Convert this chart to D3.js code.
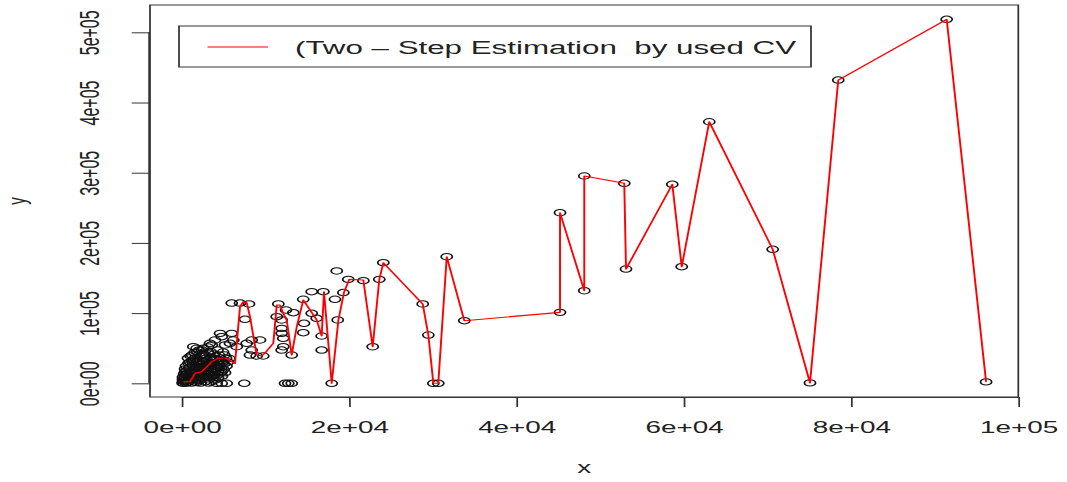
<!DOCTYPE html>
<html>
<head>
<meta charset="utf-8">
<script src="https://cdn.jsdelivr.net/npm/d3@7"></script>
<style>
  html, body { margin: 0; padding: 0; background: #fff; }
  svg { display: block; }
</style>
</head>
<body>
<div id="chart"></div>
<script>
// Observed data (x, y) drawn as open circles
const scatterX = [
  100, 280, 510, 510, 150, 750, 990, 630, 1230, 1470,
  1110, 1590, 1830, 2070, 1710, 1350, 2190, 2430, 2670, 2310,
  1950, 1590, 2900, 3140, 2790, 2550, 2190, 3380, 3620, 3260,
  3020, 2670, 3860, 4100, 3740, 3500, 3140, 4340, 4460, 4100,
  3860, 4700, 4820, 4460, 5060, 5300, 4940, 5530, 3500, 3980,
  400, 870, 1830, 2430, 990, 510, 150, 280, 400, 750,
  155, 390, 630, 870, 1110, 1350, 1590, 1830, 2070, 2310,
  2550, 2790, 3020, 3260, 3500, 3740, 3980, 4220, 4580, 3620,
  2900, 1470, 1230, 2070, 3140, 510, 990, 1710, 2430, 4340, 4820,
  215, 690, 1170, 1770, 2250, 2730, 3200,
  335, 810, 1290, 2010, 2490, 3080, 3680, 4280, 4640,
  570, 1050, 1530, 2010, 2490, 2960, 3440, 3920, 4400, 5000, 5360,
  810, 1290, 1770, 2250, 2730, 3200, 3800, 4400, 4880, 5710,
  1050, 1530, 2490, 3440, 4280, 5120,
  1390, 2580, 1790, 3380, 3980, 3590, 4780, 4580, 5980, 5180,
  5770, 6170, 6570, 7770, 8370, 8370, 9360, 8960, 9750, 8160,
  4180, 4780, 5180, 7570, 5980, 6970, 8040, 4180, 4780, 5380, 7480,
  11550, 12470, 13340, 11360, 11950, 11950, 12140, 12140, 11950, 13150,
  12350, 12740, 13150, 14530, 14530, 14620, 15540, 15540, 16140, 16730,
  16730, 16930, 18320, 17930, 18650, 18530, 19320, 19910, 21710, 22830,
  23620, 24100, 11950,
  28810, 29480, 30080, 30670, 31680, 33780, 45220, 45220, 48120, 48120,
  52900, 53110, 58640, 59770, 63060, 70640, 75100, 78480, 91440, 96150
];
const scatterY = [
  400, 3300, 400, 4700, 9000, 1900, 7600, 13200, 4700, 10400,
  17500, 1900, 7600, 14700, 21800, 26100, 4700, 10400, 17500, 24600,
  31800, 36000, 6100, 13200, 21800, 30300, 38900, 9000, 16100, 24600,
  33200, 41700, 11800, 20400, 28900, 37500, 44600, 16100, 26100, 34600,
  41700, 21800, 31800, 40300, 27500, 36000, 44600, 30300, 1900, 4700,
  16100, 21800, 44600, 47400, 30300, 24600, 6100, 13200, 20400, 36000,
  3300, 9000, 6100, 11800, 9000, 14700, 20400, 27500, 20400, 14700,
  7600, 13200, 19000, 14700, 20400, 7600, 26100, 30300, 36000, 33200,
  38900, 33200, 40300, 47400, 51700, 13200, 23200, 11800, 27500, 7600, 10400,
  400, 1100, 400, 1100, 400, 1900, 400,
  6800, 9000, 6100, 4700, 7600, 8300, 10400, 11800, 14700,
  18200, 16100, 17500, 23900, 19700, 24600, 26800, 19700, 22500, 19700, 24600,
  28900, 31800, 29600, 32500, 35300, 29600, 35300, 31100, 29600, 35300,
  38900, 43900, 41000, 45300, 47400, 40300,
  52100, 49900, 49900, 57000, 61700, 54600, 66400, 71200, 71200, 54600,
  57000, 61700, 52100, 57000, 47400, 61700, 61700, 38900, 38900, 40300,
  23600, 16500, 15100, 91200, 114300, 114300, 113000, 0, 0, 0, 0,
  113000, 104400, 100600, 94900, 78300, 71200, 64100, 52100, 47400, 40300,
  0, 0, 0, 119700, 72100, 85500, 130500, 99700, 92600, 67400,
  47400, 130500, 119700, 0, 90200, 160000, 129300, 148100, 146200, 52100,
  148100, 171800, 90200,
  113000, 68800, 0, 0, 180300, 89200, 101100, 243000, 131900, 295300,
  284900, 162800, 283500, 166100, 372600, 190900, 600, 432000, 518500, 2000
];

// Two-step CV estimate, drawn as the red line
const fitX = [
  190, 990, 1590, 2390, 2990, 3590, 4370, 5380, 5980, 6370,
  6970, 7360, 7770, 8160, 8960, 9560, 9960, 10950, 11360, 11750,
  12110, 12550, 13150, 13750, 14530, 15340, 16140, 16730, 17010, 17930,
  18730, 19400, 20030, 21710, 22830, 23620, 24100, 28810, 29480, 30080,
  30670, 31680, 33780, 45220, 45220, 48120, 48120, 52900, 53110, 58640,
  59770, 63060, 70640, 75100, 78480, 91440, 96150
];
const fitY = [
  2300, 2300, 14200, 16500, 23600, 30800, 35600, 35600, 30800, 28500,
  109100, 116200, 114800, 94900, 40300, 38900, 43200, 57000, 111500, 111500,
  100200, 90200, 40300, 80600, 118700, 104400, 90200, 67400, 130500, 0,
  90200, 129600, 148100, 147100, 52100, 148100, 171800, 113000, 68800, 0,
  0, 180300, 89200, 101100, 243000, 131900, 295300, 284900, 162800, 283500,
  166100, 372600, 190900, 600, 432000, 518500, 2000
];

// Axis limits and ticks
const xLimits = [-3790, 100000];
const yLimits = [-19500, 538900];
const xTicks = [0, 20000, 40000, 60000, 80000, 100000];
const xTickLabels = ["0e+00", "2e+04", "4e+04", "6e+04", "8e+04", "1e+05"];
const yTicks = [0, 100000, 200000, 300000, 400000, 500000];
const yTickLabels = ["0e+00", "1e+05", "2e+05", "3e+05", "4e+05", "5e+05"];
const legendLabel = "(Two \u2013 Step Estimation  by used CV";

// The device is wider than tall: everything is drawn in a narrower
// coordinate system and stretched horizontally to the full width.
const sx = 1.74;
const pageW = 1067, pageH = 482;
const W = pageW / sx, H = pageH;

const plot = { left: 150 / sx, right: 1018.3 / sx, top: 5, bottom: 397 };
const font = "'Liberation Sans', Arial, Helvetica, sans-serif";
const ink = "#222";
const lineInk = "#333";

const svg = d3.select("#chart").append("svg")
  .attr("width", pageW).attr("height", pageH)
  .attr("viewBox", `0 0 ${W} ${H}`)
  .attr("preserveAspectRatio", "none");

svg.append("rect").attr("width", W).attr("height", H).attr("fill", "#fff");

const x = d3.scaleLinear().domain(xLimits).range([plot.left, plot.right]);
const y = d3.scaleLinear().domain(yLimits).range([plot.bottom, plot.top]);

// Points
const pts = d3.range(scatterX.length).map(i => [scatterX[i], scatterY[i]]);
svg.append("g")
  .selectAll("circle")
  .data(pts)
  .join("circle")
  .attr("cx", d => x(d[0]))
  .attr("cy", d => y(d[1]))
  .attr("r", 3.2)
  .attr("fill", "none")
  .attr("stroke", "#111")
  .attr("stroke-width", 1);

// Fitted line
const fit = d3.range(fitX.length).map(i => [fitX[i], fitY[i]]);
svg.append("path")
  .datum(fit)
  .attr("fill", "none")
  .attr("stroke", "#ff0000")
  .attr("stroke-width", 1.1)
  .attr("stroke-linejoin", "round")
  .attr("d", d3.line().x(d => x(d[0])).y(d => y(d[1])));

// Frame
svg.append("rect")
  .attr("x", plot.left).attr("y", plot.top)
  .attr("width", plot.right - plot.left)
  .attr("height", plot.bottom - plot.top)
  .attr("fill", "none")
  .attr("stroke", lineInk)
  .attr("stroke-width", 1);

// Bottom axis
const gx = svg.append("g")
  .attr("transform", `translate(0,${plot.bottom})`)
  .call(d3.axisBottom(x).tickValues(xTicks)
    .tickFormat((d, i) => xTickLabels[i])
    .tickSize(10).tickSizeOuter(0));
gx.select(".domain")
  .attr("d", `M${x(xTicks[0])},0.5H${x(xTicks[xTicks.length - 1])}`)
  .attr("stroke", lineInk);
gx.selectAll(".tick line").attr("stroke", lineInk);
gx.selectAll(".tick text")
  .attr("y", 36.5).attr("dy", null)
  .attr("fill", ink)
  .style("font-family", font).style("font-size", "16px");

// Left axis, labels rotated parallel to the axis
const gy = svg.append("g")
  .attr("transform", `translate(${plot.left},0)`)
  .call(d3.axisLeft(y).tickValues(yTicks)
    .tickFormat((d, i) => yTickLabels[i])
    .tickSize(10.5).tickSizeOuter(0));
gy.select(".domain")
  .attr("d", `M-0.5,${y(yTicks[0])}V${y(yTicks[yTicks.length - 1])}`)
  .attr("stroke", lineInk);
gy.selectAll(".tick line").attr("stroke", lineInk);
gy.selectAll(".tick text")
  .attr("x", null).attr("dy", null)
  .attr("text-anchor", "middle")
  .attr("transform", `translate(${57 - plot.left},0) rotate(-90)`)
  .attr("fill", ink)
  .style("font-family", font).style("font-size", "16px");

// Axis titles
svg.append("text")
  .attr("x", (plot.left + plot.right) / 2).attr("y", 473)
  .attr("text-anchor", "middle")
  .attr("fill", ink)
  .style("font-family", font).style("font-size", "16px")
  .text("x");
svg.append("text")
  .attr("transform", `translate(${25.5 / sx},${(plot.top + plot.bottom) / 2}) rotate(-90)`)
  .attr("text-anchor", "middle")
  .attr("fill", ink)
  .style("font-family", font).style("font-size", "15px")
  .text("y");

// Legend
const lg = svg.append("g");
lg.append("rect")
  .attr("x", 179 / sx).attr("y", 26)
  .attr("width", (811 - 179) / sx).attr("height", 41)
  .attr("fill", "#fff")
  .attr("stroke", lineInk).attr("stroke-width", 1);
lg.append("line")
  .attr("x1", 207.5 / sx).attr("x2", 268 / sx)
  .attr("y1", 47).attr("y2", 47)
  .attr("stroke", "#ff0000").attr("stroke-width", 1.1);
lg.append("text")
  .attr("x", 295 / sx).attr("y", 54)
  .attr("fill", ink)
  .style("white-space", "pre")
  .style("font-family", font).style("font-size", "18px")
  .text(legendLabel);
</script>
</body>
</html>
